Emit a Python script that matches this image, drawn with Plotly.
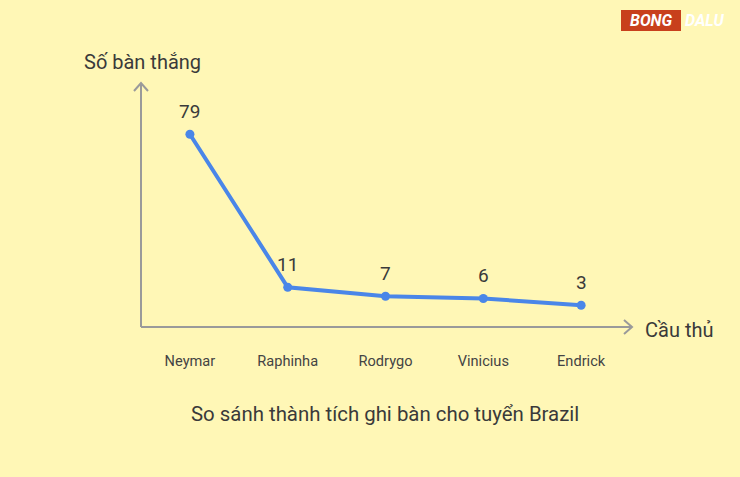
import plotly.graph_objects as go

players = ["Neymar", "Raphinha", "Rodrygo", "Vinicius", "Endrick"]
goals = [79, 11, 7, 6, 3]

BG = "#FFF7B6"
TXT = "#3a3a3a"
AX = "#9a9a9a"
LINE = "#4A86E8"
FONT = "Roboto"

fig = go.Figure()
fig.add_trace(go.Scatter(
    x=players, y=goals, mode="lines+markers",
    line=dict(color=LINE, width=4),
    marker=dict(color=LINE, size=9),
    hoverinfo="skip", showlegend=False, cliponaxis=False,
))

value_labels = [
    dict(x=p, y=g, xref="x", yref="y", text=str(g), showarrow=False,
         yshift=23, font=dict(family=FONT, size=19, color=TXT))
    for p, g in zip(players, goals)
]

fig.update_layout(
    width=740, height=477,
    margin=dict(l=141, r=108, t=83, b=150),
    paper_bgcolor=BG, plot_bgcolor=BG,
    font=dict(family=FONT, color=TXT),
    xaxis=dict(type="category", range=[-0.5, 4.52], showgrid=False, zeroline=False,
               showline=False, ticks="", ticklabelstandoff=23,
               tickfont=dict(family=FONT, size=14.6, color="#444444"), fixedrange=True),
    yaxis=dict(range=[-6.67, 101.8], showgrid=False, zeroline=False, showline=False,
               showticklabels=False, ticks="", fixedrange=True),
    shapes=[
        dict(type="line", xref="paper", yref="paper", x0=0, x1=1, y0=0, y1=0,
             line=dict(color=AX, width=2)),
        dict(type="line", xref="paper", yref="paper", x0=0, x1=0, y0=0, y1=1,
             line=dict(color=AX, width=2)),
        dict(type="path", xref="paper", yref="paper",
             path="M %f %f L 1 0 L %f %f" % (1 - 8 / 491, 7 / 244, 1 - 8 / 491, -7 / 244),
             line=dict(color=AX, width=2)),
        dict(type="path", xref="paper", yref="paper",
             path="M %f %f L 0 1 L %f %f" % (-7 / 491, 1 - 8 / 244, 7 / 491, 1 - 8 / 244),
             line=dict(color=AX, width=2)),
        dict(type="rect", xref="paper", yref="paper",
             x0=(621 - 141) / 491, x1=(681 - 141) / 491,
             y0=(327 - 31) / 244, y1=(327 - 10) / 244,
             fillcolor="#C8401C", line=dict(width=0), layer="above"),
    ],
    annotations=value_labels + [
        dict(text="Số bàn thắng", xref="paper", yref="paper",
             x=(82 - 141) / 491, y=(327 - 62) / 244, xanchor="left", yanchor="middle",
             showarrow=False, font=dict(family=FONT, size=20, color=TXT)),
        dict(text="Cầu thủ", xref="paper", yref="paper",
             x=(643 - 141) / 491, y=(327 - 330) / 244, xanchor="left", yanchor="middle",
             showarrow=False, font=dict(family=FONT, size=20, color=TXT)),
        dict(text="So sánh thành tích ghi bàn cho tuyển Brazil", xref="paper", yref="paper",
             x=(385 - 141) / 491, y=(327 - 414) / 244, xanchor="center", yanchor="middle",
             showarrow=False, font=dict(family=FONT, size=20.4, color=TXT)),
        dict(text="<b><i>BONG</i></b>", xref="paper", yref="paper",
             x=(651 - 141) / 491, y=(327 - 20.5) / 244, xanchor="center", yanchor="middle",
             showarrow=False, font=dict(family=FONT, size=16, color="white")),
        dict(text="<b><i>DALU</i></b>", xref="paper", yref="paper",
             x=(683 - 141) / 491, y=(327 - 20.5) / 244, xanchor="left", yanchor="middle",
             showarrow=False, font=dict(family=FONT, size=16, color="white")),
    ],
)

fig.write_html(
    "out.html",
    config={"displayModeBar": False, "staticPlot": True},
    post_script="document.body.style.margin='0';document.body.style.background='#FFF7B6';",
)
